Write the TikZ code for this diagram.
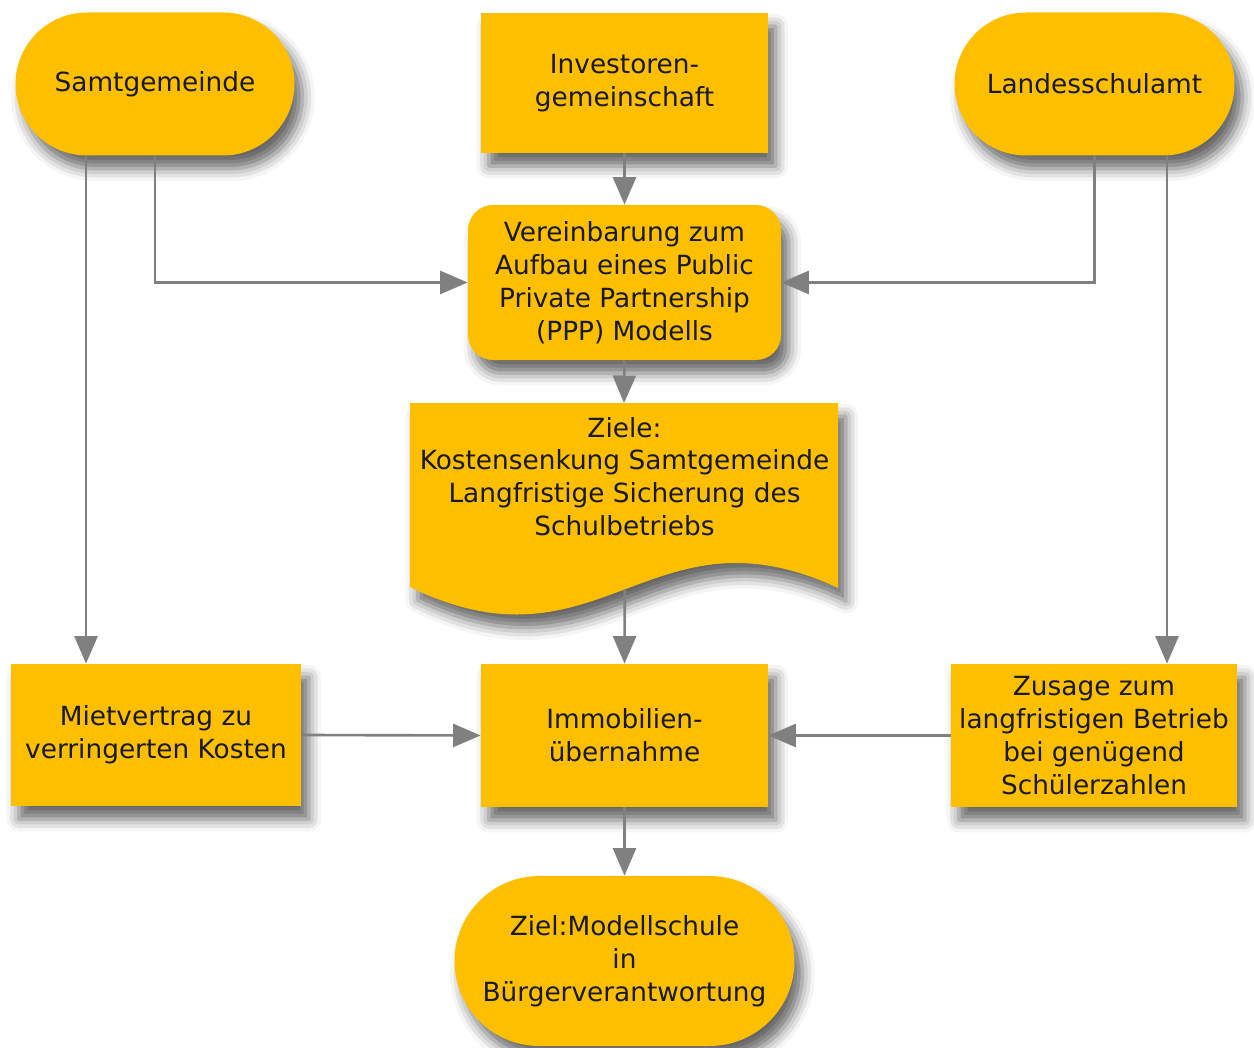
\documentclass[tikz,border=0pt]{standalone}
\usepackage{fontspec}
\setmainfont{DejaVu Sans}
\usetikzlibrary{shapes.misc,arrows.meta,shadows.blur}
\definecolor{boxfill}{RGB}{253,191,0}
\definecolor{arrgray}{RGB}{128,128,128}

\tikzset{
    softshadow/.style={blur shadow={shadow xshift=4.5pt,shadow yshift=-7.5pt,shadow blur radius=7pt,shadow opacity=60}},
    base/.style={fill=boxfill,text=black!90,align=center,inner sep=2pt,
        font=\fontsize{15}{18.7}\selectfont,softshadow},
    stadium/.style={base,rounded rectangle},
    plainbox/.style={base,rectangle},
    roundbox/.style={base,rectangle,rounded corners=0.5cm},
    arr/.style={draw=arrgray,line width=1.5pt,-{Triangle[length=0.55cm,width=0.46cm]}}
}

\begin{document}
\begin{tikzpicture}
    \useasboundingbox (0,0) rectangle (25.08,-20.96);
    %top row
    \node[stadium,minimum width=5.72cm,minimum height=2.86cm] (samt) at (3.10,-1.68) {Samtgemeinde};
    \node[plainbox,minimum width=5.74cm,minimum height=2.80cm] (invest) at (12.49,-1.66) {Investoren-\\gemeinschaft};
    \node[stadium,minimum width=5.74cm,minimum height=2.86cm] (landes) at (21.89,-1.68) {Landesschulamt};
    \node[roundbox,minimum width=6.26cm,minimum height=3.10cm] (verein) at (12.49,-5.65) {Vereinbarung zum\\Aufbau eines Public\\Private Partnership\\(PPP) Modells};
    %document shape
    \fill[boxfill,softshadow]
        (8.20,-8.06) -- coordinate (zieletop) (16.76,-8.06) -- (16.76,-11.76)
        .. controls (13.0,-10.0) and (12.0,-13.6) .. coordinate[pos=0.5] (zielebot) (8.20,-11.74) -- cycle;
    \node[align=center,text=black!90,font=\fontsize{15}{18.7}\selectfont] (ziele) at (12.49,-9.53)
        {Ziele:\\Kostensenkung Samtgemeinde\\Langfristige Sicherung des\\Schulbetriebs};
    %lower rows
    \node[plainbox,minimum width=5.80cm,minimum height=2.84cm] (miet) at (3.12,-14.70) {Mietvertrag zu\\verringerten Kosten};
    \node[plainbox,minimum width=5.74cm,minimum height=2.86cm] (immo) at (12.49,-14.71) {Immobilien-\\übernahme};
    \node[plainbox,minimum width=5.72cm,minimum height=2.86cm] (zusage) at (21.88,-14.71) {Zusage zum\\langfristigen Betrieb\\bei genügend\\Schülerzahlen};
    \node[stadium,minimum width=6.94cm,minimum height=3.40cm] (schule) at (12.49,-19.22) {Ziel:Modellschule\\in\\Bürgerverantwortung};

    \draw[arr] ([xshift=-1.38cm]samt.south) -- ([xshift=-1.38cm]samt.south |- miet.north);
    \draw[arr] (samt.south) |- (verein.west);
    \draw[arr] (landes.south) |- (verein.east);
    \draw[arr] ([xshift=1.45cm]landes.south) -- ([xshift=1.45cm]landes.south |- zusage.north);
    \draw[arr] (invest.south) -- (verein.north);
    \draw[arr] (verein.south) -- (zieletop);
    \draw[arr] (zielebot) -- (immo.north);
    \draw[arr] (miet.east) -- (immo.west);
    \draw[arr] (zusage.west) -- (immo.east);
    \draw[arr] (immo.south) -- (schule.north);
\end{tikzpicture}
\end{document}
